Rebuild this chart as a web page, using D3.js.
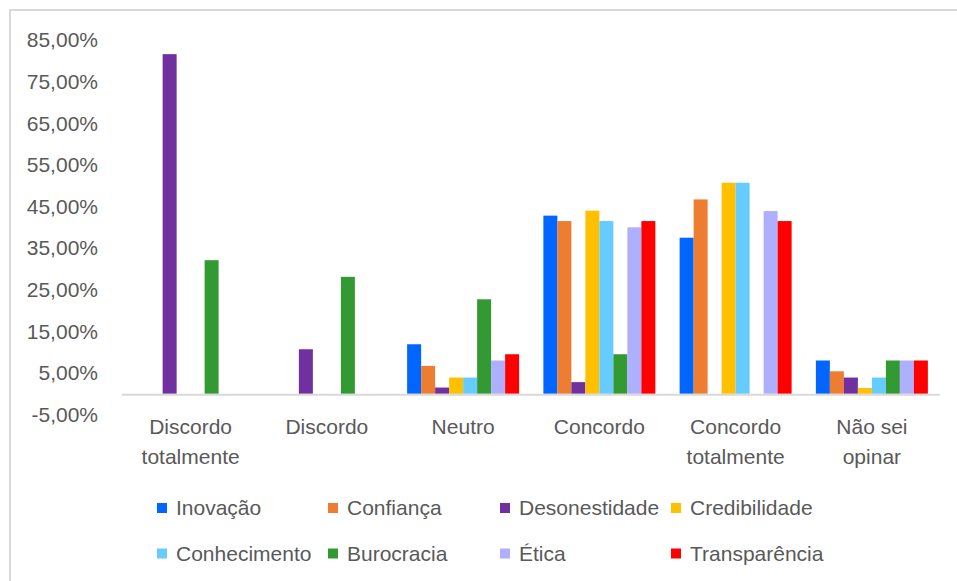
<!DOCTYPE html>
<html>
<head>
<meta charset="utf-8">
<script src="https://cdn.jsdelivr.net/npm/d3@7"></script>
<style>
  body { margin: 0; background: #fff; }
  text { font-family: "Liberation Sans", Arial, sans-serif; fill: #595959; }
</style>
</head>
<body>
<div id="chart"></div>
<script>
// data (percent values)
var categories = [["Discordo", "totalmente"], ["Discordo"], ["Neutro"], ["Concordo"], ["Concordo", "totalmente"], ["Não sei", "opinar"]];
var seriesNames = ["Inovação", "Confiança", "Desonestidade", "Credibilidade", "Conhecimento", "Burocracia", "Ética", "Transparência"];
var seriesColors = ["#0066ff", "#ed7d31", "#7030a0", "#ffc000", "#66ccff", "#339933", "#aeb0ff", "#ff0000"];
var inovacao      = [0, 0, 11.9, 42.8, 37.5, 8.0];
var confianca     = [0, 0, 6.7, 41.5, 46.7, 5.4];
var desonestidade = [81.6, 10.7, 1.5, 2.8, 0, 3.9];
var credibilidade = [0, 0, 3.9, 44.0, 50.7, 1.4];
var conhecimento  = [0, 0, 3.9, 41.5, 50.7, 3.9];
var burocracia    = [32.1, 28.1, 22.7, 9.5, 0, 8.0];
var etica         = [0, 0, 8.0, 40.0, 43.9, 8.0];
var transparencia = [0, 0, 9.5, 41.5, 41.5, 8.0];
var yTicks = [-5, 5, 15, 25, 35, 45, 55, 65, 75, 85];

var seriesValues = [inovacao, confianca, desonestidade, credibilidade, conhecimento, burocracia, etica, transparencia];

var width = 957, height = 581;
var svg = d3.select("#chart").append("svg")
    .attr("width", width)
    .attr("height", height);

//chart frame
svg.append("rect")
    .attr("x", 10).attr("y", 10)
    .attr("width", 960).attr("height", 600)
    .attr("fill", "none")
    .attr("stroke", "#d9d9d9")
    .attr("stroke-width", 2);

//scales
var y = d3.scaleLinear().domain([-5, 85]).range([414.6, 40]);
var x0 = d3.scaleBand()
    .domain(d3.range(categories.length))
    .range([122.5, 940])
    .paddingInner(0.178)
    .paddingOuter(0.089);
var x1 = d3.scaleBand()
    .domain(d3.range(seriesNames.length))
    .range([0, x0.bandwidth()]);

//y axis labels
var fmt = function(v){ return v.toFixed(2).replace(".", ",") + "%"; };
svg.append("g").selectAll("text")
    .data(yTicks)
  .enter().append("text")
    .attr("x", 98)
    .attr("y", d => y(d))
    .attr("dy", "0.35em")
    .attr("text-anchor", "end")
    .attr("font-size", 21)
    .text(fmt);

//bars
var groups = svg.append("g").selectAll("g")
    .data(categories.map((c, i) => i))
  .enter().append("g")
    .attr("transform", i => "translate(" + x0(i) + ",0)");

groups.selectAll("rect")
    .data(i => seriesValues.map((vals, s) => ({s: s, v: vals[i]})))
  .enter().append("rect")
    .attr("x", d => x1(d.s))
    .attr("width", x1.bandwidth())
    .attr("y", d => y(d.v))
    .attr("height", d => y(0) - y(d.v))
    .attr("fill", d => seriesColors[d.s]);

//zero line
svg.append("line")
    .attr("x1", 122).attr("x2", 940)
    .attr("y1", y(0) + 1).attr("y2", y(0) + 1)
    .attr("stroke", "#d9d9d9")
    .attr("stroke-width", 2);

//category labels
var cat = svg.append("g").selectAll("text")
    .data(categories)
  .enter().append("text")
    .attr("text-anchor", "middle")
    .attr("font-size", 21)
    .attr("transform", (d, i) => "translate(" + (x0(i) + x0.bandwidth() / 2) + ",434)");
cat.selectAll("tspan")
    .data(d => d)
  .enter().append("tspan")
    .attr("x", 0)
    .attr("y", (d, i) => i * 30)
    .text(d => d);

//legend
var legendX = [157, 328, 500, 671], legendY = [508, 553.5];
var legend = svg.append("g").selectAll("g")
    .data(seriesNames)
  .enter().append("g")
    .attr("transform", (d, i) => "translate(" + legendX[i % 4] + "," + legendY[Math.floor(i / 4)] + ")");
legend.append("rect")
    .attr("x", 0).attr("y", -5)
    .attr("width", 10).attr("height", 10)
    .attr("fill", (d, i) => seriesColors[i]);
legend.append("text")
    .attr("x", 19)
    .attr("dy", "0.35em")
    .attr("font-size", 21)
    .text(d => d);
</script>
</body>
</html>
